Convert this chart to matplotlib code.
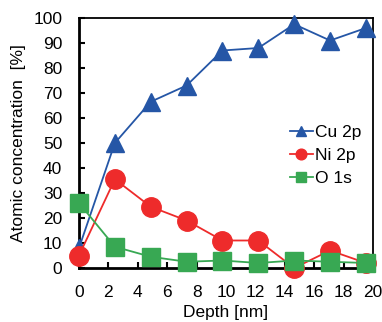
import matplotlib
matplotlib.use("Agg")
import matplotlib.pyplot as plt

depth = [0, 2.44, 4.88, 7.32, 9.76, 12.2, 14.64, 17.08, 19.52]
cu = [8, 50, 66.5, 73, 87, 88, 97.5, 91, 96]
ni = [5, 35.5, 24.5, 19, 11, 11, 0, 7, 2]
o = [26, 8.5, 4.5, 2.5, 3, 2, 3, 2.5, 2]
xticks = [0, 2, 4, 6, 8, 10, 12, 14, 16, 18, 20]
yticks = [0, 10, 20, 30, 40, 50, 60, 70, 80, 90, 100]

plt.rcParams['font.family'] = ['Liberation Sans', 'DejaVu Sans']

fig = plt.figure(figsize=(3.82, 3.22), dpi=100)
ax = fig.add_axes([79/382, 1-268/322, (373-79)/382, (268-18)/322])

ax.plot(depth, cu, color='#2556A6', marker='^', markersize=13, lw=1.3, label='Cu 2p', zorder=3, clip_on=False)
ax.plot(depth, ni, color='#EE2B2B', marker='o', markersize=14, lw=1.3, label='Ni 2p', zorder=4, clip_on=False)
ax.plot(depth, o, color='#38A853', marker='s', markersize=13, lw=1.3, label='O 1s', zorder=5, clip_on=False)

ax.set_xlim(0, 20)
ax.set_ylim(0, 100)
ax.set_xticks(xticks)
ax.set_yticks(yticks)
ax.tick_params(direction='in', length=4, width=1.5, labelsize=12.5)
ax.tick_params(axis='x', pad=12)
ax.tick_params(axis='y', pad=12)
for s in ax.spines.values():
    s.set_linewidth(1.3)
for s in ['left', 'bottom']:
    ax.spines[s].set_linewidth(2)
ax.set_xlabel('Depth [nm]', fontsize=12.5, labelpad=4)
ax.set_ylabel('Atomic concentration  [%]', fontsize=12.5, labelpad=5)

leg = ax.legend(loc='center left', bbox_to_anchor=(0.718, 0.45), frameon=False, fontsize=12.5,
                markerscale=0.55, handlelength=1.3, handletextpad=0.15, labelspacing=0.45,
                borderaxespad=0, borderpad=0)

fig.savefig('out.png', dpi=100)
